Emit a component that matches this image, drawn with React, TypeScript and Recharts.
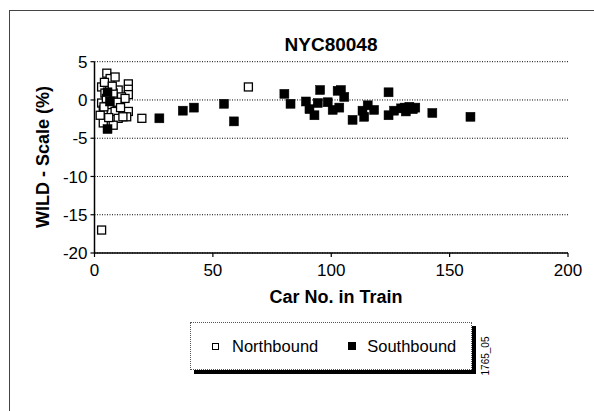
import React from 'react';
import { ScatterChart, Scatter, XAxis, YAxis, CartesianGrid, Customized } from 'recharts';

// Northbound (open squares)
const nbX = [3, 5.2, 6.6, 8.7, 10, 14.3, 14.3, 14.3, 4.4, 7.9, 11.4, 12.9, 3, 6.6, 3.7, 8.7, 12.9, 14.3, 10, 13.6, 20, 3.7, 7.9, 2.4, 3, 65, 5, 9.5, 11, 6, 12, 4.2, 4, 7.5];
const nbY = [1.7, 3.5, 2.8, 3.0, 1.3, 2.1, 1.4, 0.7, 0.9, 0.9, 0.4, 0.2, -0.4, -0.6, -1.3, -1.5, -1.7, -1.5, -2.4, -2.2, -2.4, -3.0, -3.3, -2.0, -17, 1.7, 0.2, -0.3, -1.0, -2.3, -2.2, 2.3, -0.9, 1.8];

// Southbound (filled squares)
const sbX = [27.4, 37.3, 42, 54.7, 58.9, 80.2, 82.8, 89.3, 90.8, 92.9, 95.3, 94.3, 98.5, 100.6, 102.7, 104.1, 105.5, 103.4, 109, 113.2, 115.4, 113.9, 118.1, 124.2, 124.2, 126.5, 129.5, 131, 131.5, 133, 134.5, 135.5, 142.7, 158.8, 5.5, 5.5, 6.5];
const sbY = [-2.4, -1.4, -1.0, -0.5, -2.8, 0.8, -0.5, -0.2, -1.2, -2.0, 1.3, -0.4, -0.3, -1.3, 1.2, 1.3, 0.4, -1.0, -2.6, -1.4, -0.7, -2.2, -1.3, 1.0, -2.0, -1.4, -1.1, -1.0, -1.5, -0.9, -1.2, -1.0, -1.7, -2.2, -3.8, 1.0, -0.2];

const xTicks = [0, 50, 100, 150, 200];
const yTicks = [-20, -15, -10, -5, 0, 5];

const nbData = nbX.map((x, i) => ({ x, y: nbY[i] }));
const sbData = sbX.map((x, i) => ({ x, y: sbY[i] }));

const FONT = '"Liberation Sans", Arial, Helvetica, sans-serif';

const OpenSquare = (props: any) => {
  const { cx, cy } = props;
  const s = 8;
  return <rect x={cx - s / 2} y={cy - s / 2} width={s} height={s} fill="#fff" stroke="#000" strokeWidth={1.3} />;
};

const FilledSquare = (props: any) => {
  const { cx, cy } = props;
  const s = 9;
  return <rect x={cx - s / 2} y={cy - s / 2} width={s} height={s} fill="#000" stroke="#000" strokeWidth={0.5} />;
};

const Titles = () => (
  <g fontFamily={FONT} fontWeight="bold" fill="#000">
    <text x={331} y={51} textAnchor="middle" fontSize={19}>NYC80048</text>
    <text x={336} y={303} textAnchor="middle" fontSize={18}>Car No. in Train</text>
    <text x={49} y={157} textAnchor="middle" fontSize={18} transform="rotate(-90 49 157)">WILD - Scale (%)</text>
  </g>
);

export default function App() {
  return (
    <div style={{ position: 'absolute', left: 0, top: 0, width: 594, height: 411, overflow: 'hidden', background: '#fff' }}>
      <div style={{ position: 'absolute', left: 9, top: 10, width: 620, height: 440, border: '1.5px solid #444' }} />
      <div style={{ position: 'absolute', left: 0, top: 0 }}>
        <ScatterChart width={594} height={411} margin={{ top: 61.7, right: 26, bottom: 128, left: 34.5 }}>
          <CartesianGrid horizontal vertical={false} stroke="#000" strokeDasharray="1 1.5" strokeWidth={1} />
          <XAxis
            type="number"
            dataKey="x"
            domain={[0, 200]}
            ticks={xTicks}
            interval={0}
            height={30}
            tickSize={4}
            tickMargin={7}
            axisLine={{ stroke: '#000', strokeWidth: 1.5 }}
            tickLine={{ stroke: '#000', strokeWidth: 1.2 }}
            tick={{ fill: '#000', fontSize: 17, fontFamily: FONT }}
          />
          <YAxis
            type="number"
            dataKey="y"
            domain={[-20, 5]}
            ticks={yTicks}
            interval={0}
            width={60}
            tickSize={4}
            tickMargin={3}
            axisLine={{ stroke: '#000', strokeWidth: 1.5 }}
            tickLine={{ stroke: '#000', strokeWidth: 1.2 }}
            tick={{ fill: '#000', fontSize: 17, fontFamily: FONT }}
          />
          <Scatter name="Northbound" data={nbData} shape={OpenSquare} isAnimationActive={false} />
          <Scatter name="Southbound" data={sbData} shape={FilledSquare} isAnimationActive={false} />
          <Customized component={Titles} />
        </ScatterChart>
      </div>
      <div
        style={{
          position: 'absolute',
          left: 190,
          top: 322,
          width: 282,
          height: 48,
          border: '1px dotted #555',
          boxShadow: '4px 4px 0 #000',
          background: '#fff',
          display: 'flex',
          alignItems: 'center',
          fontFamily: FONT,
          fontSize: 16.5,
          color: '#000',
          boxSizing: 'border-box',
        }}
      >
        <span style={{ display: 'inline-block', width: 7, height: 7, border: '1px solid #000', marginLeft: 21, boxSizing: 'border-box' }} />
        <span style={{ marginLeft: 13 }}>Northbound</span>
        <span style={{ display: 'inline-block', width: 8, height: 8, background: '#000', marginLeft: 30 }} />
        <span style={{ marginLeft: 11 }}>Southbound</span>
      </div>
      <div
        style={{
          position: 'absolute',
          left: 485,
          top: 356,
          fontFamily: FONT,
          fontSize: 10,
          color: '#000',
          transform: 'translate(-50%, -50%) rotate(-90deg)',
          whiteSpace: 'nowrap',
        }}
      >
        1765_05
      </div>
    </div>
  );
}
